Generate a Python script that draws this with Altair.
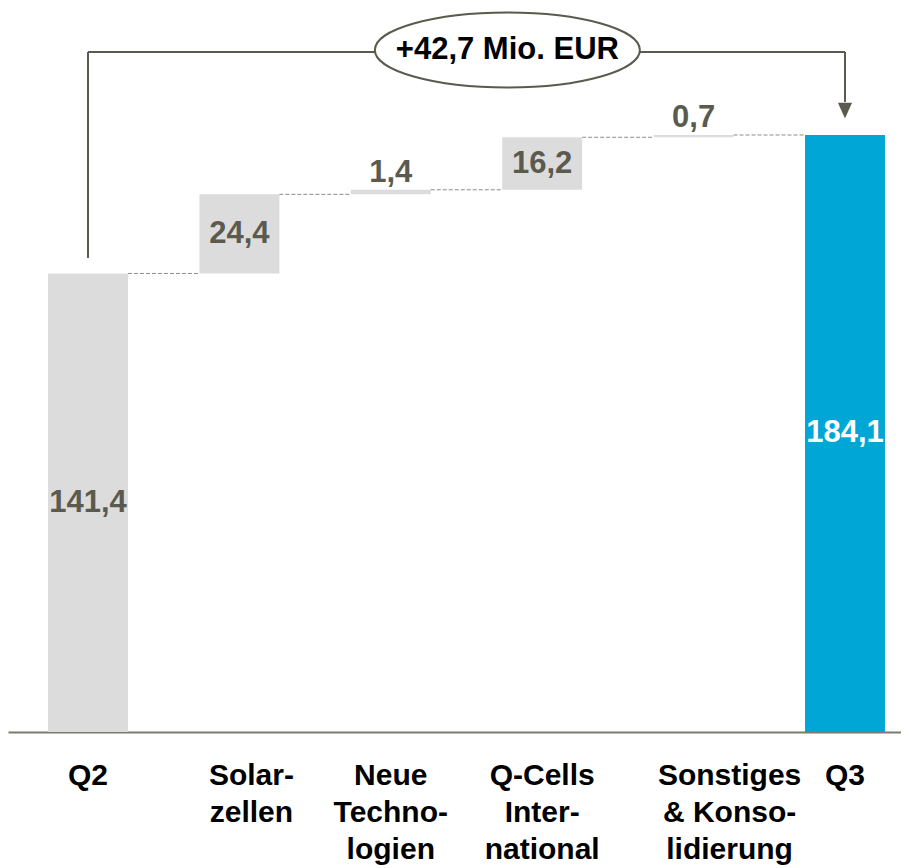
import altair as alt
import pandas as pd

# ---------------- data ----------------
categories = ["Q2", "Solar-\nzellen", "Neue\nTechno-\nlogien", "Q-Cells\nInter-\nnational",
              "Sonstiges\n& Konso-\nlidierung", "Q3"]
values = [141.4, 24.4, 1.4, 16.2, 0.7, 184.1]
is_total = [True, False, False, False, False, True]
total_unit = "Mio. EUR"

# ---------------- styles ----------------
GREY = "#dcdcdc"
BLUE = "#00a6d6"
DARK = "#5a5a4e"
FONT = "Liberation Sans"
bar_colors = [GREY, GREY, GREY, GREY, GREY, BLUE]
label_colors = [DARK, DARK, DARK, DARK, DARK, "#ffffff"]
cat_label_dx = [0, 12, 0, 0, 36, 0]
HALF_W = 0.264          # half bar width in category units
X_DOMAIN = [-0.5284, 5.370]
Y_DOMAIN = [0, 223.26]
BRACKET_Y = 209.7
BRACKET_LEFT_BOTTOM = 146.2
ARROW_BASE = 194.3
ARROW_Y = 191.6
ELLIPSE_X = 2.77
ELLIPSE_Y = 210.3

# ---------------- derived tables ----------------
rows = []
cum = 0.0
for i, (c, v, t) in enumerate(zip(categories, values, is_total)):
    if t:
        start, end = 0.0, v
    else:
        start, end = cum, cum + v
    cum = end
    big = (end - start) > 5
    rows.append(dict(
        i=i, cat=c, x0=i - HALF_W, x1=i + HALF_W, start=start, end=end,
        color=bar_colors[i], tcolor=label_colors[i],
        label=f"{v:.1f}".replace(".", ","),
        ymid=(start + end) / 2, big=big, dx=cat_label_dx[i],
    ))
df = pd.DataFrame(rows)

conn = pd.DataFrame([
    dict(x0=i + HALF_W, x1=i + 1 - HALF_W, y=df.loc[i, "end"]) for i in range(len(df) - 1)
])

delta = values[-1] - values[0]
total_text = f"+{delta:.1f}".replace(".", ",") + " " + total_unit

xs = alt.Scale(domain=X_DOMAIN, nice=False, zero=False)
ys = alt.Scale(domain=Y_DOMAIN, nice=False, zero=False)

bars = alt.Chart(df).mark_bar(stroke=None).encode(
    x=alt.X("x0:Q", scale=xs, axis=alt.Axis(title=None, labels=False, ticks=False, grid=False,
                                               domain=True, domainColor="#7a7a70", domainWidth=2)),
    x2="x1:Q",
    y=alt.Y("start:Q", scale=ys, axis=None),
    y2="end:Q",
    color=alt.Color("color:N", scale=None),
)

connectors = alt.Chart(conn).mark_rule(color="#8c8c86", strokeWidth=1, strokeDash=[4, 2]).encode(
    x=alt.X("x0:Q", scale=xs), x2="x1:Q", y=alt.Y("y:Q", scale=ys)
)

big_labels = alt.Chart(df).transform_filter("datum.big").mark_text(
    font=FONT, fontSize=31, fontWeight="bold", baseline="middle", align="center"
).encode(
    x=alt.X("i:Q", scale=xs), y=alt.Y("ymid:Q", scale=ys), text="label:N",
    color=alt.Color("tcolor:N", scale=None),
)

small_labels = alt.Chart(df).transform_filter("!datum.big").mark_text(
    font=FONT, fontSize=31, fontWeight="bold", baseline="alphabetic", align="center", dy=-8
).encode(
    x=alt.X("i:Q", scale=xs), y=alt.Y("end:Q", scale=ys), text="label:N",
    color=alt.Color("tcolor:N", scale=None),
)

cat_layers = []
for dxv in sorted(set(cat_label_dx)):
    cat_layers.append(
        alt.Chart(df).transform_filter(f"datum.dx == {dxv}").mark_text(
            font=FONT, fontSize=30, fontWeight="bold", baseline="top", align="center",
            lineBreak="\n", lineHeight=37, color="#000000", dx=dxv
        ).encode(x=alt.X("i:Q", scale=xs), y=alt.value(753), text="cat:N")
    )

# bracket annotation
first_i, last_i = 0, len(values) - 1
bracket_v = pd.DataFrame([
    dict(x=first_i, y=BRACKET_LEFT_BOTTOM, y2=BRACKET_Y),
    dict(x=last_i, y=ARROW_BASE, y2=BRACKET_Y),
])
bracket_h = pd.DataFrame([dict(x=first_i, x2=last_i, y=BRACKET_Y)])

vrules = alt.Chart(bracket_v).mark_rule(color=DARK, strokeWidth=2).encode(
    x=alt.X("x:Q", scale=xs), y=alt.Y("y:Q", scale=ys), y2="y2:Q"
)
hrule = alt.Chart(bracket_h).mark_rule(color=DARK, strokeWidth=2).encode(
    x=alt.X("x:Q", scale=xs), x2="x2:Q", y=alt.Y("y:Q", scale=ys)
)
arrow = alt.Chart(pd.DataFrame([dict(x=last_i, y=ARROW_Y)])).mark_point(
    shape="M -0.47 -0.53 L 0.47 -0.53 L 0 0.53 Z", size=900, filled=True, color=DARK, opacity=1
).encode(x=alt.X("x:Q", scale=xs), y=alt.Y("y:Q", scale=ys))

k = 0.283
c = 0.5523
ell_path = (f"M -1 0 C -1 {-k*c:.4f} {-c:.4f} {-k} 0 {-k} "
            f"C {c:.4f} {-k} 1 {-k*c:.4f} 1 0 "
            f"C 1 {k*c:.4f} {c:.4f} {k} 0 {k} "
            f"C {-c:.4f} {k} -1 {k*c:.4f} -1 0 Z")
ell_df = pd.DataFrame([dict(x=ELLIPSE_X, y=ELLIPSE_Y, t=total_text)])
ellipse = alt.Chart(ell_df).mark_point(
    shape=ell_path, size=265 * 265, filled=False, fill="#ffffff", fillOpacity=1,
    stroke=DARK, strokeWidth=2, opacity=1
).encode(x=alt.X("x:Q", scale=xs), y=alt.Y("y:Q", scale=ys))
ell_text = alt.Chart(ell_df).mark_text(
    font=FONT, fontSize=31, fontWeight="bold", color="#000000", baseline="middle", align="center"
).encode(x=alt.X("x:Q", scale=xs), y=alt.Y("y:Q", scale=ys), text="t:N")

chart = alt.layer(
    bars, connectors, big_labels, small_labels, *cat_layers, vrules, hrule, arrow, ellipse, ell_text
).properties(
    width=893, height=724,
    autosize=alt.AutoSizeParams(type="none"),
    padding={"left": 0, "top": 0, "right": 0, "bottom": 136},
    background="#ffffff",
).configure_view(stroke=None)

chart.save("out.html", embed_options={"renderer": "svg", "actions": False})
